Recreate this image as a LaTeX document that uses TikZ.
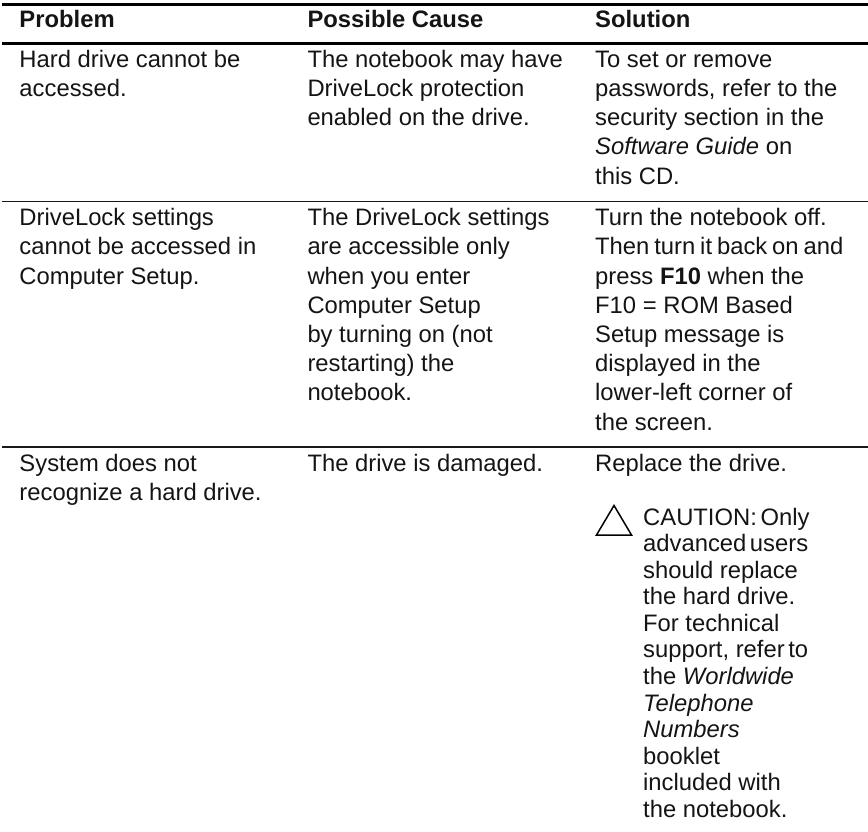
\documentclass[tikz,border=0pt]{standalone}
\usepackage{fontspec}
\setmainfont{Liberation Sans}
\newcommand{\tsp}{\hspace{3.6pt}}
\newcommand{\nsp}{\hspace{4.9pt}}
\tikzset{
  txt/.style={anchor=base west,inner sep=0pt,font=\fontsize{23.8pt}{28pt}\selectfont,text=black!92},
  hd/.style={txt,font=\fontsize{23.8pt}{28pt}\selectfont\bfseries},
  thick rule/.style={line width=2.7pt,black},
  thin rule/.style={line width=1.1pt,black!90},
  warn/.style={line width=1.5pt,black,line join=miter}
}
\begin{document}
\begin{tikzpicture}[x=1pt,y=-1pt]
\useasboundingbox (0,0) rectangle (868,832);
\coordinate (l1) at (2,4.3); \coordinate (r1) at (868,4.3);
\coordinate (l2) at (2,43.7); \coordinate (r2) at (868,43.7);
\coordinate (l3) at (2,201.7); \coordinate (r3) at (868,201.7);
\coordinate (l4) at (2,447); \coordinate (r4) at (868,447);
\draw[thick rule] (l1)--(r1);
\draw[thick rule] (l2)--(r2);
\draw[thin rule] (l3)--(r3);
\draw[thin rule] (l4)--(r4);
\node[hd] (h1) at (19.3,27.3) {Problem};
\node[hd] (h2) at (307.3,27.3) {Possible Cause};
\node[hd] (h3) at (595,27.3) {Solution};
\node[txt] (a1) at (19.3,68) {Hard drive cannot be};
\node[txt] (a2) at (19.3,97) {accessed.};
\node[txt] (b1) at (307.3,68) {The notebook may have};
\node[txt] (b2) at (307.3,97) {DriveLock protection};
\node[txt] (b3) at (307.3,126) {enabled on the drive.};
\node[txt] (c1) at (595,68) {To set or remove};
\node[txt] (c2) at (595,97) {passwords, refer to the};
\node[txt] (c3) at (595,126) {security section in the};
\node[txt] (c4) at (595,155) {\textit{Software Guide} on};
\node[txt] (c5) at (595,185) {this CD.};
\node[txt] (d1) at (19.3,225.7) {DriveLock settings};
\node[txt] (d2) at (19.3,254.8) {cannot be accessed in};
\node[txt] (d3) at (19.3,284) {Computer Setup.};
\node[txt] (e1) at (307.3,225.7) {The DriveLock settings};
\node[txt] (e2) at (307.3,254.8) {are accessible only};
\node[txt] (e3) at (307.3,284) {when you enter};
\node[txt] (e4) at (307.3,313) {Computer Setup};
\node[txt] (e5) at (307.3,342.3) {by turning on (not};
\node[txt] (e6) at (307.3,371.5) {restarting) the};
\node[txt] (e7) at (307.3,400.8) {notebook.};
\node[txt] (f1) at (595,225.7) {Turn the notebook off.};
\node[txt] (f2) at (595,254.8) {Then\nsp turn\nsp it\nsp back\nsp on\nsp and};
\node[txt] (f3) at (595,284) {press \textbf{F10} when the};
\node[txt] (f4) at (595,313) {F10 = ROM Based};
\node[txt] (f5) at (595,342.3) {Setup message is};
\node[txt] (f6) at (595,371.5) {displayed in the};
\node[txt] (f7) at (595,400.8) {lower-left corner of};
\node[txt] (f8) at (595,430) {the screen.};
\node[txt] (g1) at (19.3,471) {System does not};
\node[txt] (g2) at (19.3,500) {recognize a hard drive.};
\node[txt] (h1b) at (307.3,471) {The drive is damaged.};
\node[txt] (i1) at (595,471) {Replace the drive.};
\coordinate (t1) at (596.5,535); \coordinate (t2) at (631.5,535); \coordinate (t3) at (614,505.5);
\draw[warn] (t1)--(t2)--(t3)--cycle;
\node[txt] (j1) at (643,525) {CAUTION:\tsp Only};
\node[txt] (j2) at (643,551) {advanced\tsp users};
\node[txt] (j3) at (643,578) {should replace};
\node[txt] (j4) at (643,604.5) {the hard drive.};
\node[txt] (j5) at (643,631) {For technical};
\node[txt] (j6) at (643,657.5) {support, refer\tsp to};
\node[txt] (j7) at (643,684) {the \textit{Worldwide}};
\node[txt] (j8) at (643,711) {\textit{Telephone}};
\node[txt] (j9) at (643,737.5) {\textit{Numbers}};
\node[txt] (j10) at (643,764) {booklet};
\node[txt] (j11) at (643,790.5) {included with};
\node[txt] (j12) at (643,817) {the notebook.};
\end{tikzpicture}
\end{document}
